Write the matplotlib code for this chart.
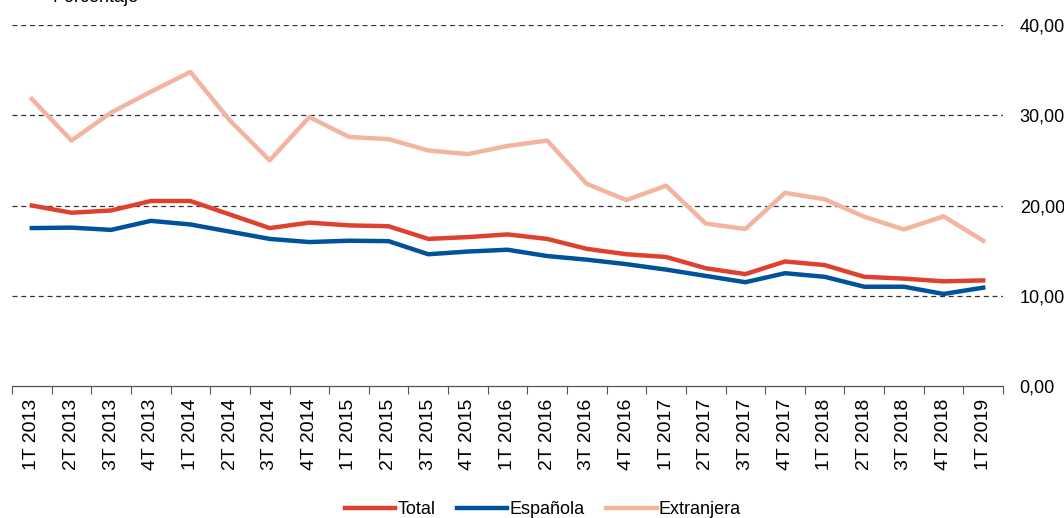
import matplotlib
matplotlib.use("Agg")
import matplotlib.pyplot as plt
import numpy as np

plt.rcParams['font.family'] = ['Liberation Sans', 'DejaVu Sans']

trimestres = ['1T 2013', '2T 2013', '3T 2013', '4T 2013',
              '1T 2014', '2T 2014', '3T 2014', '4T 2014',
              '1T 2015', '2T 2015', '3T 2015', '4T 2015',
              '1T 2016', '2T 2016', '3T 2016', '4T 2016',
              '1T 2017', '2T 2017', '3T 2017', '4T 2017',
              '1T 2018', '2T 2018', '3T 2018', '4T 2018',
              '1T 2019']

total = [20.0, 19.2, 19.45, 20.5, 20.5, 19.0, 17.5, 18.1, 17.8, 17.7, 16.3, 16.5,
         16.8, 16.3, 15.2, 14.6, 14.3, 13.05, 12.4, 13.8, 13.4, 12.1, 11.9, 11.6,
         11.7]
espanola = [17.5, 17.55, 17.3, 18.3, 17.9, 17.1, 16.3, 15.95, 16.1, 16.05, 14.6, 14.9,
            15.1, 14.4, 14.0, 13.5, 12.9, 12.2, 11.5, 12.5, 12.1, 11.0, 11.0, 10.2,
            10.9]
extranjera = [31.8, 27.2, 30.3, 32.6, 34.8, 29.4, 25.0, 29.8, 27.6, 27.35, 26.1, 25.7,
              26.6, 27.2, 22.4, 20.6, 22.2, 18.0, 17.4, 21.4, 20.7, 18.75, 17.35, 18.8,
              16.1]

x = np.arange(len(trimestres))

fig = plt.figure(figsize=(10.64, 5.18), dpi=100)
ax = fig.add_axes([0.0113, 0.2548, 0.9314, 0.6969])

ax.plot(x, total, color='#DF4131', lw=3.2, label='Total')
ax.plot(x, espanola, color='#00529B', lw=3.2, label='Española')
ax.plot(x, extranjera, color='#F3B4A0', lw=3.2, label='Extranjera')

ax.set_xlim(-0.5, len(x) - 0.5)
ax.set_ylim(0, 40)

ax.yaxis.tick_right()
ax.set_yticks([0, 10, 20, 30, 40])
ax.set_yticklabels(['0,00', '10,00', '20,00', '30,00', '40,00'])
ax.tick_params(axis='y', length=0, pad=12, labelsize=13)
for v in [10, 20, 30, 40]:
    ax.axhline(v, color='#333333', lw=0.9, ls=(0, (4, 3)), zorder=0)

ax.set_xticks(x)
ax.set_xticklabels(trimestres, rotation=90, va='top', ha='center')
ax.tick_params(axis='x', which='major', length=0, pad=9, labelsize=14)
ax.set_xticks(np.arange(-0.5, len(x), 1), minor=True)
ax.tick_params(axis='x', which='minor', length=6, width=0.8, color='#555555', direction='out')

for s in ['top', 'right', 'left']:
    ax.spines[s].set_visible(False)
ax.spines['bottom'].set_color('#555555')
ax.spines['bottom'].set_linewidth(0.9)

fig.text(53 / 1064, 1 - 2 / 518, 'Porcentaje', fontsize=13, va='baseline', ha='left')

fig.legend(loc='lower center', bbox_to_anchor=(0.51, -0.032), ncol=3, frameon=False,
           fontsize=13, handlelength=2.8, handletextpad=0.1, columnspacing=1.2)

fig.savefig('out.png', dpi=100)
